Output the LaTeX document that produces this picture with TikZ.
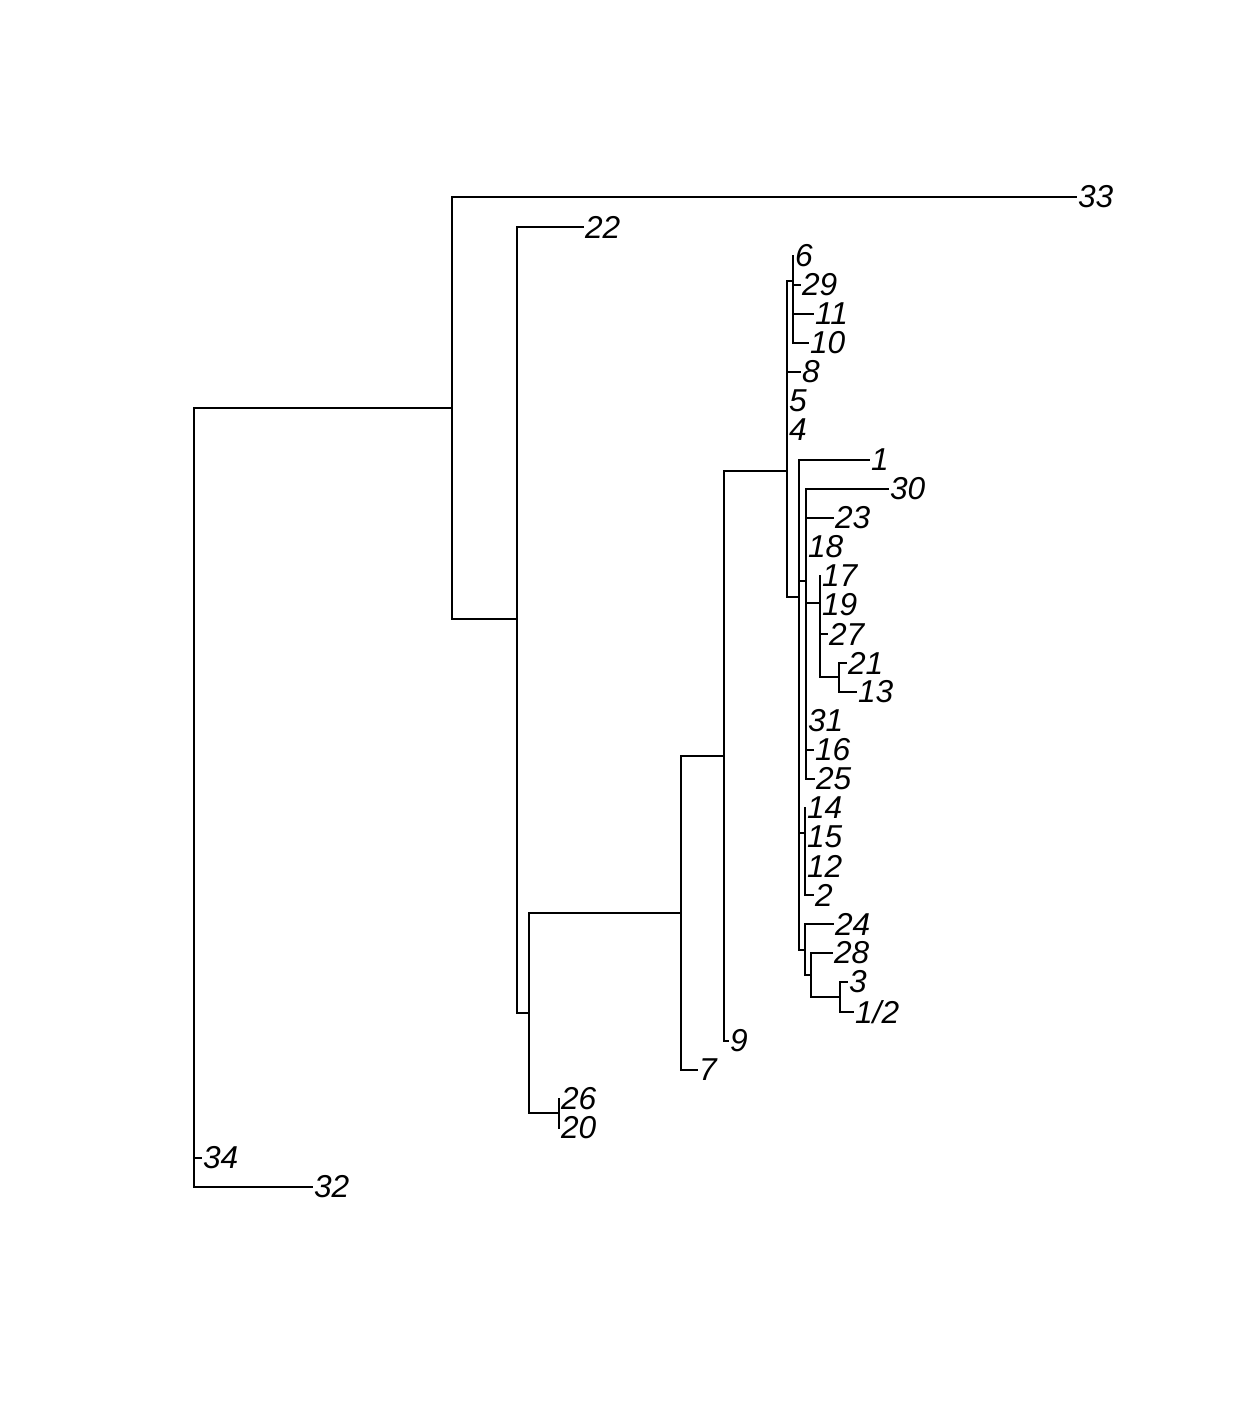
\documentclass[tikz,border=0pt]{standalone}
\usepackage{fontspec}
\setmainfont{Liberation Sans}
\usepackage{tikz}
\tikzset{
  rama/.style={black,line width=0.65pt,line cap=rect},
  etiq/.style={anchor=west,inner sep=0.4pt,font=\fontsize{9}{10}\selectfont\itshape}
}

\begin{document}
\begin{tikzpicture}[x=0.01cm,y=-0.01cm]
\useasboundingbox (0,0) rectangle (1234,1422);
% nodos internos
\coordinate (R) at (194,408);
\coordinate (A) at (452,408);
\coordinate (B) at (517,619);
\coordinate (C) at (529,1013);
\coordinate (E) at (559,1113);
\coordinate (D) at (681,913);
\coordinate (F) at (724,756);
\coordinate (G) at (787,471);
\coordinate (H) at (793,281);
\coordinate (I) at (799,597);
\coordinate (J) at (806,581);
\coordinate (M) at (820,603);
\coordinate (N) at (839,677);
\coordinate (K) at (805,833);
\coordinate (L) at (805,950);
\coordinate (O) at (811,975);
\coordinate (P) at (840,997);
% hojas
\foreach \n/\lab/\x/\y in {33/33/1076/197,22/22/583/227,6/6/793/256,29/29/800/285,
  11/11/813/314,10/10/808/343,8/8/800/372,5/5/787/401,4/4/787/430,1/1/869/460,
  30/30/888/489,23/23/833/518,18/18/806/547,17/17/820/576,19/19/820/605,
  27/27/827/634,21/21/846/663,13/13/856/692,31/31/806/721,16/16/813/750,
  25/25/814/779,14/14/805/808,15/15/805/837,12/12/805/866,2/2/813/895,
  24/24/833/924,28/28/832/953,3/3/847/982,h/{1/2}/853/1012,9/9/728/1041,
  7/7/697/1070,26/26/559/1099,20/20/559/1128,34/34/201/1158,32/32/312/1187}{
  \coordinate (t\n) at (\x,\y);
  \node[etiq] (l\n) at (t\n) {\lab};
}
% ramas
\foreach \p/\c in {R/A,R/t34,R/t32,A/t33,A/B,B/t22,B/C,C/D,C/E,E/t26,E/t20,
  D/F,D/t7,F/G,F/t9,G/H,G/t8,G/t5,G/t4,G/I,H/t6,H/t29,H/t11,H/t10,
  I/t1,I/J,I/K,I/L,J/t30,J/t23,J/t18,J/M,J/t31,J/t16,J/t25,
  M/t17,M/t19,M/t27,M/N,N/t21,N/t13,K/t14,K/t15,K/t12,K/t2,
  L/t24,L/O,O/t28,O/P,P/t3,P/th}{
  \draw[rama] (\p) |- (\c);
}
\end{tikzpicture}
\end{document}
